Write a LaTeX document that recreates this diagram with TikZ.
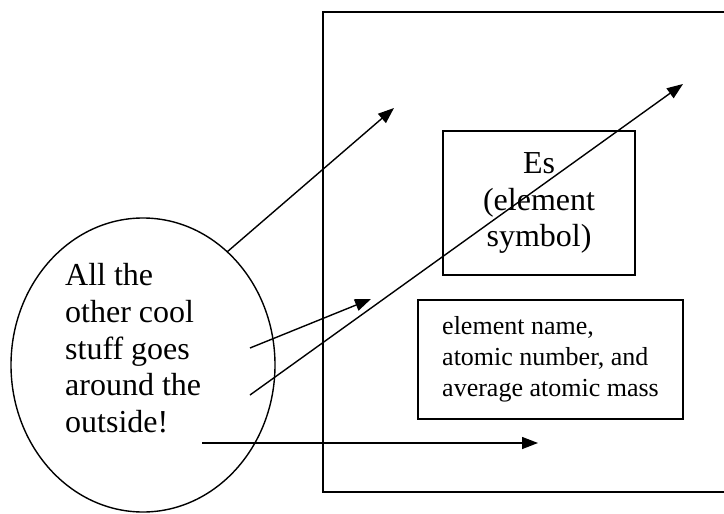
\documentclass[tikz,border=0pt]{standalone}
\usepackage{fontspec}
\setmainfont{Liberation Serif}
\usetikzlibrary{positioning,arrows.meta,shapes.geometric}
\tikzset{
    frame/.style={draw, line width=2pt},
    symbolbox/.style={draw, rectangle, minimum width=192pt, minimum height=144pt, inner sep=0pt, line width=1.8pt},
    infobox/.style={draw, rectangle, minimum width=265pt, minimum height=119pt, inner sep=0pt, line width=1.8pt},
    bubble/.style={draw, ellipse, minimum width=264pt, minimum height=294pt, inner sep=0pt, line width=1.4pt},
    bigtext/.style={font=\fontsize{32}{36.8}\selectfont, inner sep=0pt},
    smalltext/.style={font=\fontsize{26}{31}\selectfont, inner sep=0pt, align=left},
    pointer/.style={-{Triangle[length=16pt,width=12pt]}, line width=1.4pt}
}

\begin{document}
\begin{tikzpicture}[x=1pt, y=-1pt]
        \useasboundingbox (0,0) rectangle (724,514);
        \clip (0,0) rectangle (724,514);

        % Outer frame
        \draw[frame] (323,12) rectangle (740,492);

        % Boxes inside
        \node (elem_box) [symbolbox, bigtext, align=center] at (539,203) {Es\\(element\\symbol)};
        \node (info_box) [infobox, smalltext] at (550.5,359.5) {element name,\\atomic number, and\\average atomic mass};

        % Bubble
        \node (bubble) [bubble] at (143,365) {};
        \node (bubble_text) [bigtext, align=left, anchor=north west] at (65,263) {All the\\other cool\\stuff goes\\around the\\outside!};

        % Arrow ends
        \coordinate (top_start) at (227,252);
        \coordinate (top_end) at (394,108);
        \coordinate (mid_start) at (250,348);
        \coordinate (mid_end) at (371,299);
        \coordinate (long_start) at (250,395);
        \coordinate (long_end) at (683,84);
        \coordinate (low_start) at (202,443);
        \coordinate (low_end) at (538,443);

        % Arrows
        \draw[pointer] (top_start) -- (top_end);
        \draw[pointer] (mid_start) -- (mid_end);
        \draw[pointer] (long_start) -- (long_end);
        \draw[pointer] (low_start) -- (low_end);

    \end{tikzpicture}
\end{document}
